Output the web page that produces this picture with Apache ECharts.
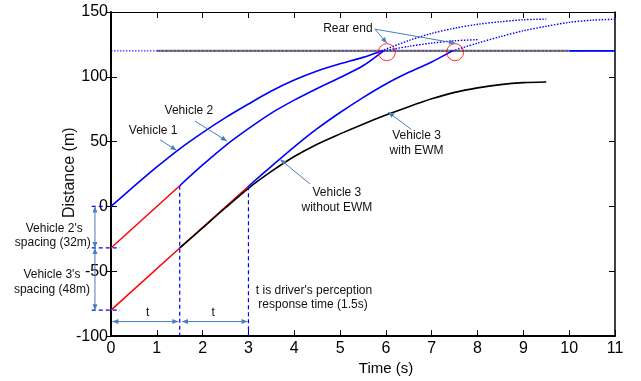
<!DOCTYPE html>
<html><head><meta charset="utf-8">
<script src="https://cdn.jsdelivr.net/npm/echarts@6/dist/echarts.min.js"></script>
<style>html,body{margin:0;padding:0;background:#fff}#c{width:641px;height:381px}</style>
</head><body><div id="c"></div>
<script>
// ---- data ----
const xTicks = [0,1,2,3,4,5,6,7,8,9,10,11];
const yTicks = [-100,-50,0,50,100,150];
const vehicle1 = [[0,0],[0.5,15.5],[1,30.5],[1.5,44.5],[2,57],[2.5,68.5],[3,79],[3.5,89],[4,97.5],[4.5,104.5],[5,110],[5.5,115],[5.9,120]];
const vehicle2 = [[1.5,16],[2,32],[2.5,47],[3,60],[3.5,72],[4,82],[4.5,91],[5,99.5],[5.5,108.5],[5.95,120]];
const vehicle3NoEwm = [[3,15.6],[3.5,31],[4,46],[4.5,60],[5,72.5],[5.5,84],[6,94.5],[6.5,103.5],[7,111.5],[7.45,120]];
const vehicle3Ewm = [[1.5,-32],[2,-16.5],[2.5,-1],[3,14],[3.5,27],[4,38.5],[4.5,48],[5,56],[5.5,63.5],[6,70.5],[6.5,77],[7,83],[7.5,88],[8,91.5],[8.5,94],[9,95.5],[9.5,96]];
const reaction2 = [[0,-32],[1.5,16]];
const reaction3 = [[0,-80],[1.5,-32],[3,15.6]];
const afterCrashA = [[5.9,120],[6.5,128],[7,133.5],[7.5,137.5],[8,140.5],[8.5,142.5],[9,144],[9.5,144.5]];
const afterCrashB = [[5.95,120],[6.5,123.5],[7,126],[7.5,127.8],[8,128.7]];
const afterCrashC = [[7.45,120],[8,126],[8.5,131],[9,135.5],[9.5,139],[10,142],[10.5,143.7],[11,144.4]];
const obstacleY = 120;
const obstacleFull = [[0,obstacleY],[11,obstacleY]];
const obstacleMid = [[1,obstacleY],[10,obstacleY]];
const obstacleEnd = [[10,obstacleY],[11,obstacleY]];
const crashPoints = [[6.02,119],[7.51,119]];
const perceptionTimes = [1.5, 3];
const spacingLevels = [0,-32,-80];

const chart = echarts.init(document.getElementById('c'), null, {renderer:'canvas'});
const FONT = '"Liberation Sans", Arial, sans-serif';
const BLUE = '#0000ff', RED = '#ff0000', ANN = '#4a7ebb';

function lineS(data, color, width, type, extra) {
  return Object.assign({type:'line', data, showSymbol:false, symbol:'none', smooth:0.3, animation:false,
    lineStyle:{color, width, type: type||'solid'}, silent:true, z:3}, extra||{});
}

const series = [
  lineS(obstacleFull, BLUE, 1, [1.5,1.5], {smooth:false}),
  lineS(obstacleEnd, BLUE, 1.6, 'solid', {smooth:false})
];
['#d04040','#40a040','#4848ff','#505050'].forEach((c,i)=>{
  series.push(lineS(obstacleMid, c, 2.2, [1,3], {smooth:false, lineStyle:{color:c,width:2.2,type:[1,3],dashOffset:i}}));
});
series.push(
  lineS(afterCrashA, BLUE, 1.4, [1.5,1.5]),
  lineS(afterCrashB, BLUE, 1.4, [1.5,1.5]),
  lineS(afterCrashC, BLUE, 1.4, [1.5,1.5]),
  lineS(reaction2, RED, 1.5, 'solid', {smooth:false}),
  lineS(reaction3, RED, 1.5, 'solid', {smooth:false}),
  lineS(vehicle1, BLUE, 1.6),
  lineS(vehicle2, BLUE, 1.6),
  lineS(vehicle3NoEwm, BLUE, 1.6),
  lineS(vehicle3Ewm, '#000', 1.6),
  {type:'scatter', data:crashPoints, symbol:'circle', symbolSize:17, silent:true, animation:false, z:5,
   itemStyle:{color:'rgba(0,0,0,0)', borderColor:RED, borderWidth:1}}
);
perceptionTimes.forEach((t,i)=>{
  const top = i===0 ? reaction2[1][1] : reaction3[2][1];
  series.push(lineS([[t,top],[t,yTicks[0]]], BLUE, 1.2, [4,3], {smooth:false}));
});

const axisCommon = {type:'value', splitLine:{show:false}, axisTick:{inside:true, length:6, lineStyle:{color:'#000', width:1}}};
const xr = {min:xTicks[0], max:xTicks[xTicks.length-1], interval:xTicks[1]-xTicks[0]};
const yr = {min:yTicks[0], max:yTicks[yTicks.length-1], interval:yTicks[1]-yTicks[0]};
chart.setOption({
  animation:false,
  grid:{left:111, right:26, top:12, bottom:40, containLabel:false},
  xAxis:[
    Object.assign({}, axisCommon, xr, {position:'bottom',
      axisLine:{onZero:false, lineStyle:{color:'#000', width:2}},
      axisLabel:{color:'#000', fontSize:16, fontFamily:FONT, margin:4},
      name:'Time (s)', nameLocation:'middle', nameGap:21,
      nameTextStyle:{color:'#000', fontSize:15, fontFamily:FONT, padding:[0,0,0,46]}}),
    Object.assign({}, axisCommon, xr, {position:'top',
      axisLine:{onZero:false, lineStyle:{color:'#000', width:1}}, axisLabel:{show:false}})
  ],
  yAxis:[
    Object.assign({}, axisCommon, yr, {position:'left',
      axisLine:{onZero:false, lineStyle:{color:'#000', width:2}},
      axisLabel:{color:'#000', fontSize:16, fontFamily:FONT, margin:3}}),
    Object.assign({}, axisCommon, yr, {position:'right',
      axisLine:{onZero:false, lineStyle:{color:'#000', width:1.5}}, axisLabel:{show:false}}),
    Object.assign({}, axisCommon, yr, {position:'left', axisTick:{inside:false, length:4, lineStyle:{color:'#000'}},
      axisLine:{show:false, onZero:false}, axisLabel:{show:false}})
  ],
  series
});

// ---- annotations ----
function P(x,y){ return chart.convertToPixel({gridIndex:0},[x,y]); }
const g = [];
function txt(x,y,text,size,rot){
  const p = P(x,y);
  g.push({type:'text', x:p[0], y:p[1], z:10, silent:true, rotation:rot||0,
    style:{text, font:(size||12)+'px '+FONT, fill:'#111', align:'center', verticalAlign:'middle'}});
}
function head(a,b){
  const dx=b[0]-a[0], dy=b[1]-a[1], L=Math.hypot(dx,dy), ux=dx/L, uy=dy/L;
  const len=6, w=2.5;
  const bx=b[0]-ux*len, by=b[1]-uy*len;
  g.push({type:'polygon', z:10, silent:true, shape:{points:[[b[0],b[1]],[bx-uy*w,by+ux*w],[bx+uy*w,by-ux*w]]}, style:{fill:ANN}});
}
function arrow(a,b,both){
  const pa=P(a[0],a[1]), pb=P(b[0],b[1]);
  g.push({type:'line', z:10, silent:true, shape:{x1:pa[0],y1:pa[1],x2:pb[0],y2:pb[1]}, style:{stroke:ANN, lineWidth:1}});
  head(pa,pb); if(both) head(pb,pa);
}
function dashH(x1,x2,y){
  const a=P(x1,y), b=P(x2,y);
  g.push({type:'line', z:9, silent:true, shape:{x1:a[0],y1:a[1],x2:b[0],y2:b[1]}, style:{stroke:BLUE, lineWidth:1.2, lineDash:[4,3]}});
}
// axis name (rotated)
const yMid = (yTicks[0]+yTicks[yTicks.length-1])/2;
txt(-0.9, yMid+1, 'Distance (m)', 16, Math.PI/2);
spacingLevels.forEach((s,i)=>dashH(-0.42, i===0?-0.12:0.2, s));
txt(5.17,136.8,'Rear end');
arrow([5.76,136.8],[6.02,126]);
arrow([5.76,136.8],[7.51,126]);
txt(0.92,58.3,'Vehicle 1');
arrow([1.07,51.4],[1.43,43.3]);
txt(1.70,73.5,'Vehicle 2');
arrow([1.83,65.9],[2.53,50.5]);
txt(4.93,11,'Vehicle 3');
txt(4.93,-1.2,'without EWM');
arrow([4.34,17.4],[3.69,36.4]);
txt(6.67,54.5,'Vehicle 3');
txt(6.67,43.3,'with EWM');
arrow([6.56,59.3],[6.05,72.8]);
txt(-1.24,-16.9,"Vehicle 2's");
txt(-1.27,-27.6,'spacing (32m)');
txt(-1.29,-52.4,"Vehicle 3's");
txt(-1.29,-63.9,'spacing (48m)');
arrow([-0.35,spacingLevels[0]],[-0.35,spacingLevels[1]],true);
arrow([-0.35,spacingLevels[1]],[-0.35,spacingLevels[2]],true);
arrow([0.03,-88.8],[1.47,-88.8],true);
arrow([1.55,-88.8],[2.98,-88.8],true);
txt(0.8,-81.7,'t');
txt(2.23,-81.7,'t');
txt(4.43,-65.2,"t is driver's perception");
txt(4.41,-75.8,'response time (1.5s)');
chart.setOption({graphic:g});
</script></body></html>
